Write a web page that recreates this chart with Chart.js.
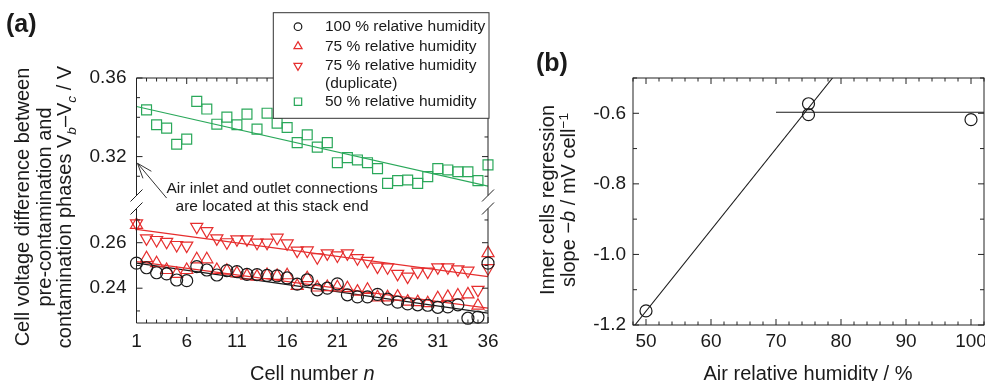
<!DOCTYPE html>
<html>
<head>
<meta charset="utf-8">
<script src="https://cdn.jsdelivr.net/npm/chart.js@4.4.1/dist/chart.umd.min.js"></script>
<style>
html,body{margin:0;padding:0;background:#fff;overflow:hidden;width:985px;height:381px;}
#chartA{position:absolute;left:0;top:0;}
#chartB{position:absolute;left:520px;top:0;}
</style>
</head>
<body>
<canvas id="chartA" width="520" height="381"></canvas>
<canvas id="chartB" width="500" height="381"></canvas>
<script>
// ---- panel (a): voltage difference per cell ----
let cells=[1,2,3,4,5,6,7,8,9,10,11,12,13,14,15,16,17,18,19,20,21,22,23,24,25,26,27,28,29,30,31,32,33,34,35,36];
let rh100=[0.2510,0.2490,0.2468,0.2463,0.2436,0.2433,0.2495,0.2480,0.2458,0.2477,0.2473,0.2461,0.2460,0.2456,0.2454,0.2445,0.2418,0.2437,0.2393,0.2400,
  0.2419,0.2371,0.2362,0.2362,0.2373,0.2352,0.2339,0.2331,0.2327,0.2325,0.2316,0.2318,0.2327,0.2268,0.2273,0.2510];
let rh75=[0.2678,0.2532,0.2510,0.2480,0.2463,0.2480,0.2527,0.2527,0.2480,0.2477,0.2466,0.2455,0.2451,0.2458,0.2454,0.2457,0.2410,0.2444,0.2403,0.2405,
  0.2404,0.2400,0.2385,0.2393,0.2360,0.2360,0.2363,0.2341,0.2339,0.2334,0.2356,0.2362,0.2368,0.2373,0.2323,0.2554];
let rh75dup=[0.2685,0.2619,0.2612,0.2604,0.2590,0.2587,0.2670,0.2651,0.2619,0.2602,0.2615,0.2615,0.2600,0.2600,0.2622,0.2597,0.2565,0.2566,0.2536,0.2553,
  0.2544,0.2553,0.2532,0.2520,0.2495,0.2492,0.2463,0.2451,0.2473,0.2473,0.2492,0.2492,0.2483,0.2477,0.2393,0.2488];
let rh50=[null,0.3438,0.3362,0.3345,0.3263,0.3289,0.3481,0.3442,0.3365,0.3401,0.3362,0.3416,0.3340,0.3421,0.3370,0.3348,0.3271,0.3311,0.3248,0.3271,
  0.3169,0.3195,0.3183,0.3169,0.3139,0.3064,0.3078,0.3081,0.3064,0.3098,0.3139,0.3132,0.3123,0.3123,0.3078,0.3158];

// regression lines, read at cell 1 and cell 36
let fitCells=[1,36];
let fit100=[0.2510,0.2290];
let fit75=[0.2517,0.2312];
let fit75dup=[0.2659,0.2451];
let fit50=[0.3455,0.3050];

let cellTicks=[1,6,11,16,21,26,31,36];
let topTicks=[0.32,0.36];
let botTicks=[0.24,0.26];
let seriesNames=["100 % relative humidity","75 % relative humidity","75 % relative humidity\n(duplicate)","50 % relative humidity"];

// ---- panel (b): regression slope vs humidity ----
let humidity=[50,75,75,100];
let slopeB=[-1.16,-0.573,-0.604,-0.618];
let fitLowX=[48.3,78.7];
let fitLowY=[-1.2,-0.5];
let fitHighX=[70,102];
let fitHighY=[-0.597,-0.597];
let humTicks=[50,60,70,80,90,100];
let slopeTicks=[-1.2,-1.0,-0.8,-0.6];

const FONT="'Liberation Sans', Arial, Helvetica, sans-serif";
const GREEN="#2aa85a", RED="#e62e2e", BLACK="#1a1a1a";

Chart.defaults.font.family=FONT;
Chart.defaults.color=BLACK;
Chart.defaults.animation=false;

function pts(xs,ys){
    return xs.map((x,i)=>({x:x,y:ys[i]})).filter(p=>p.y!==null);
}

function marker(ctx,style,x,y,r,rot){
    ctx.beginPath();
    if(style==="circle"){
        ctx.arc(x,y,r,0,Math.PI*2);
    }else if(style==="rect"){
        let s=r*Math.SQRT1_2;
        ctx.rect(x-s,y-s,2*s,2*s);
    }else{
        let a=(rot||0)*Math.PI/180;
        for(let i=0;i<3;i++){
            let t=a+i*2*Math.PI/3;
            let px=x+Math.sin(t)*r, py=y-Math.cos(t)*r;
            if(i) ctx.lineTo(px,py); else ctx.moveTo(px,py);
        }
        ctx.closePath();
    }
    ctx.stroke();
}

// text with italic / sub / sup runs, centred on (x,y)
function richText(ctx,runs,x,y,size,rotate){
    ctx.save();
    ctx.translate(x,y);
    if(rotate) ctx.rotate(-Math.PI/2);
    let total=0;
    runs.forEach(r=>{
        let fs=(r.sub||r.sup)?size*0.68:size;
        r.font=(r.i?"italic ":"")+(r.b?"bold ":"")+fs+"px "+FONT;
        ctx.font=r.font;
        r.w=ctx.measureText(r.t).width;
        total+=r.w;
    });
    let cx=-total/2;
    ctx.textAlign="left";
    ctx.textBaseline="alphabetic";
    ctx.fillStyle=BLACK;
    runs.forEach(r=>{
        ctx.font=r.font;
        let dy=r.sub?size*0.28:(r.sup?-size*0.38:0);
        ctx.fillText(r.t,cx,dy+size*0.36);
        cx+=r.w;
    });
    ctx.restore();
}

function line(ctx,x1,y1,x2,y2){
    ctx.beginPath();
    ctx.moveTo(x1,y1);
    ctx.lineTo(x2,y2);
    ctx.stroke();
}

const framePluginA={
    id:"frameA",
    afterDraw(chart){
        let ctx=chart.ctx, a=chart.chartArea;
        let xs=chart.scales.x, yt=chart.scales.yTop, yb=chart.scales.yBot;
        let brk1=yt.bottom-6.5, brk2=yb.top+6.5;
        ctx.save();
        ctx.strokeStyle="#222";
        ctx.lineWidth=1;
        // box with broken sides
        line(ctx,a.left,a.top,a.right,a.top);
        line(ctx,a.left,a.bottom,a.right,a.bottom);
        [a.left,a.right].forEach(X=>{
            line(ctx,X,a.top,X,brk1);
            line(ctx,X,brk2,X,a.bottom);
            line(ctx,X-6,brk1+6,X+6,brk1-6);
            line(ctx,X-6,brk2+6,X+6,brk2-6);
        });
        // inward ticks
        for(let n=1;n<=36;n++){
            let px=xs.getPixelForValue(n);
            let len=cellTicks.includes(n)?6:3.5;
            line(ctx,px,a.bottom,px,a.bottom-len);
            line(ctx,px,a.top,px,a.top+len);
        }
        for(let k=30;k<=36;k++){
            let v=k/100, py=yt.getPixelForValue(v);
            if(py>brk1-2) continue;
            let len=topTicks.some(t=>Math.abs(t-v)<1e-6)?6:3.5;
            line(ctx,a.left,py,a.left+len,py);
            line(ctx,a.right,py,a.right-len,py);
        }
        for(let k=22;k<=27;k++){
            let v=k/100, py=yb.getPixelForValue(v);
            if(py<brk2+2||py>a.bottom) continue;
            let len=botTicks.some(t=>Math.abs(t-v)<1e-6)?6:3.5;
            line(ctx,a.left,py,a.left+len,py);
            line(ctx,a.right,py,a.right-len,py);
        }
        // annotation arrow and note
        let tipX=xs.getPixelForValue(1.1), tipY=yt.getPixelForValue(0.3166);
        let tailX=xs.getPixelForValue(4.0), tailY=yt.getPixelForValue(0.2989);
        ctx.strokeStyle="#333";
        line(ctx,tipX,tipY,tailX,tailY);
        let ang=Math.atan2(tailY-tipY,tailX-tipX);
        [-0.35,0.35].forEach(d=>{
            line(ctx,tipX,tipY,tipX+16*Math.cos(ang+d),tipY+16*Math.sin(ang+d));
        });
        ctx.fillStyle=BLACK;
        ctx.font="15.5px "+FONT;
        ctx.textAlign="center";
        ctx.textBaseline="middle";
        let tx=xs.getPixelForValue(14.5);
        ctx.fillText("Air inlet and outlet connections",tx,yt.getPixelForValue(0.3039));
        ctx.fillText("are located at this stack end",tx,yb.getPixelForValue(0.2758));

        // titles
        ctx.font="bold 25px "+FONT;
        ctx.textAlign="left";
        ctx.fillText("(a)",6,25);
        richText(ctx,[{t:"Cell voltage difference between"}],21.7,207,20,true);
        richText(ctx,[{t:"pre-contamination and"}],43.3,207,20,true);
        richText(ctx,[{t:"contamination phases V"},{t:"b",i:1,sub:1},{t:"\u2013V"},{t:"c",i:1,sub:1},{t:" / V"}],63.3,207,20,true);
        richText(ctx,[{t:"Cell number "},{t:"n",i:1}],(a.left+a.right)/2,373,20,false);

        // legend box
        let lx=273.3, ly=12.7, lw=215.7, lh=105.6;
        ctx.fillStyle="#fff";
        ctx.fillRect(lx,ly,lw,lh);
        ctx.strokeStyle="#333";
        ctx.strokeRect(lx,ly,lw,lh);
        let rows=[26.7,46.3,65.7,101.7];
        let sizes={circle:3.8,triangle:4.7,rect:5.2};
        ctx.font="15.5px "+FONT;
        ctx.textAlign="left";
        ctx.textBaseline="middle";
        for(let i=0;i<4;i++){
            let ds=chart.data.datasets[i];
            ctx.strokeStyle=ds.borderColor;
            ctx.lineWidth=1.2;
            marker(ctx,ds.pointStyle,298,rows[i],sizes[ds.pointStyle],ds.pointRotation);
            ctx.fillStyle=BLACK;
            seriesNames[i].split("\n").forEach((s,j)=>{
                ctx.fillText(s,325,rows[i]+j*17.8);
            });
        }
        ctx.restore();
    }
};

function pointSet(label,data,axis,style,color,radius,rot){
    return {label:label,data:data,yAxisID:axis,pointStyle:style,pointRadius:radius,pointHoverRadius:radius,
        pointRotation:rot||0,borderColor:color,pointBorderColor:color,backgroundColor:"rgba(0,0,0,0)",
        pointBackgroundColor:"rgba(0,0,0,0)",pointBorderWidth:1.2,showLine:false,clip:false};
}
function fitSet(data,axis,color){
    return {data:data,yAxisID:axis,showLine:true,pointRadius:0,borderColor:color,borderWidth:1.2,fill:false};
}

let chartA=new Chart(document.getElementById("chartA"),{
    type:"scatter",
    data:{
        datasets:[
            pointSet(seriesNames[0],pts(cells,rh100),"yBot","circle",BLACK,6),
            pointSet(seriesNames[1],pts(cells,rh75),"yBot","triangle",RED,7),
            pointSet(seriesNames[2],pts(cells,rh75dup),"yBot","triangle",RED,7,180),
            pointSet(seriesNames[3],pts(cells,rh50),"yTop","rect",GREEN,7),
            fitSet(pts(fitCells,fit100),"yBot",BLACK),
            fitSet(pts(fitCells,fit75),"yBot",RED),
            fitSet(pts(fitCells,fit75dup),"yBot",RED),
            fitSet(pts(fitCells,fit50),"yTop",GREEN)
        ]
    },
    options:{
        responsive:false,
        animation:false,
        layout:{padding:{top:78,right:32,left:0,bottom:0}},
        plugins:{legend:{display:false},tooltip:{enabled:false}},
        scales:{
            x:{type:"linear",position:"bottom",min:1,max:36,
                afterBuildTicks:s=>{s.ticks=cellTicks.map(v=>({value:v}));},
                afterFit:s=>{s.height=58;},
                grid:{display:false,drawTicks:false},border:{display:false},
                ticks:{padding:7,font:{size:19},maxRotation:0,autoSkip:false,callback:v=>String(v)}},
            // left boxes are stacked in reverse order, so the lower segment is listed first
            yBot:{type:"linear",position:"left",stack:"v",stackWeight:121,min:0.2247,max:0.2779,
                afterBuildTicks:s=>{s.ticks=botTicks.map(v=>({value:v}));},
                afterFit:s=>{s.width=136.5;},
                grid:{display:false,drawTicks:false},border:{display:false},
                ticks:{padding:10,font:{size:19},callback:v=>v.toFixed(2)}},
            yTop:{type:"linear",position:"left",stack:"v",stackWeight:124,min:0.2969,max:0.36,
                afterBuildTicks:s=>{s.ticks=topTicks.map(v=>({value:v}));},
                afterFit:s=>{s.width=136.5;},
                grid:{display:false,drawTicks:false},border:{display:false},
                ticks:{padding:10,font:{size:19},callback:v=>v.toFixed(2)}}
        }
    },
    plugins:[framePluginA]
});

const framePluginB={
    id:"frameB",
    afterDraw(chart){
        let ctx=chart.ctx, a=chart.chartArea, xs=chart.scales.x, ys=chart.scales.y;
        ctx.save();
        ctx.strokeStyle="#222";
        ctx.lineWidth=1;
        ctx.strokeRect(a.left,a.top,a.right-a.left,a.bottom-a.top);
        for(let v=48;v<=102;v+=2){
            let px=xs.getPixelForValue(v);
            let len=humTicks.includes(v)?6:3.5;
            line(ctx,px,a.bottom,px,a.bottom-len);
            line(ctx,px,a.top,px,a.top+len);
        }
        for(let k=-12;k<=-5;k++){
            let v=k/10, py=ys.getPixelForValue(v);
            let len=slopeTicks.some(t=>Math.abs(t-v)<1e-6)?6:4;
            line(ctx,a.left,py,a.left+len,py);
            line(ctx,a.right,py,a.right-len,py);
        }
        ctx.fillStyle=BLACK;
        ctx.font="bold 25px "+FONT;
        ctx.textAlign="left";
        ctx.textBaseline="middle";
        ctx.fillText("(b)",16,64);
        richText(ctx,[{t:"Inner cells regression"}],26.7,200,20,true);
        richText(ctx,[{t:"slope \u2212"},{t:"b",i:1},{t:" / mV cell"},{t:"\u22121",sup:1}],48,200,20,true);
        richText(ctx,[{t:"Air relative humidity / %"}],288,373,20,false);
        ctx.restore();
    }
};

// canvas b runs past the window edge so the "100" label is cut like in the figure
let chartB=new Chart(document.getElementById("chartB"),{
    type:"scatter",
    data:{
        datasets:[
            {data:pts(humidity,slopeB),pointStyle:"circle",pointRadius:6,pointHoverRadius:6,borderColor:BLACK,
                pointBorderColor:BLACK,backgroundColor:"rgba(0,0,0,0)",pointBackgroundColor:"rgba(0,0,0,0)",
                pointBorderWidth:1.2,showLine:false,clip:false},
            {data:pts(fitLowX,fitLowY),showLine:true,pointRadius:0,borderColor:BLACK,borderWidth:1.1},
            {data:pts(fitHighX,fitHighY),showLine:true,pointRadius:0,borderColor:BLACK,borderWidth:1.1}
        ]
    },
    options:{
        responsive:false,
        animation:false,
        layout:{padding:{top:78,right:36,left:0,bottom:0}},
        plugins:{legend:{display:false},tooltip:{enabled:false}},
        scales:{
            x:{type:"linear",min:48,max:102,
                afterBuildTicks:s=>{s.ticks=humTicks.map(v=>({value:v}));},
                afterFit:s=>{s.height=56;},
                grid:{display:false,drawTicks:false},border:{display:false},
                ticks:{padding:5,font:{size:19},maxRotation:0,autoSkip:false,callback:v=>String(v)}},
            y:{type:"linear",min:-1.2,max:-0.5,
                afterBuildTicks:s=>{s.ticks=slopeTicks.map(v=>({value:v}));},
                afterFit:s=>{s.width=113;},
                grid:{display:false,drawTicks:false},border:{display:false},
                ticks:{padding:7,font:{size:19},callback:v=>v.toFixed(1)}}
        }
    },
    plugins:[framePluginB]
});
</script>
</body>
</html>
